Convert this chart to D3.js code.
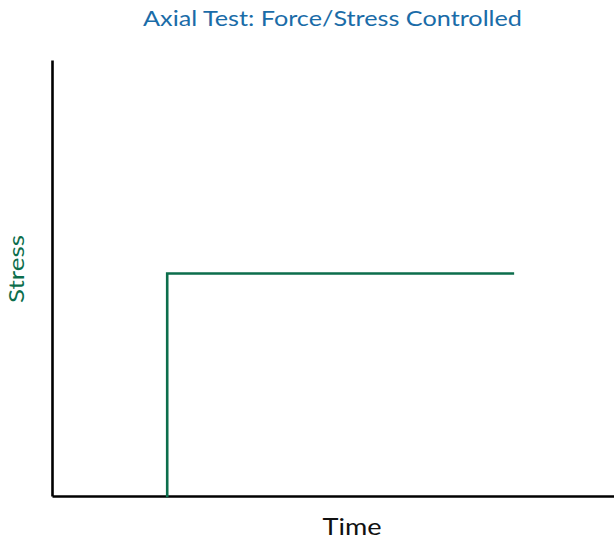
<!DOCTYPE html>
<html>
<head>
<meta charset="utf-8">
<script src="https://cdn.jsdelivr.net/npm/d3@7"></script>
<style>
  html, body { margin: 0; padding: 0; background: #fff; }
  text { font-family: "Lato", "DejaVu Sans", sans-serif; font-weight: 400; }
</style>
</head>
<body>
<svg id="chart" width="614" height="540"></svg>
<script>
// Step loading history: stress applied at a given time and held constant
const time = [2.05, 2.05, 8.2];
const stress = [0, 1, 1];

const titleText = "Axial Test: Force/Stress Controlled";
const xLabel = "Time";
const yLabel = "Stress";

const W = 614, H = 540;
const svg = d3.select("#chart");

const x = d3.scaleLinear().domain([0, 10]).range([52, 614]);
const y = d3.scaleLinear().domain([0, 1.96]).range([496, 60]);

// Axes drawn as bare lines (no ticks)
const xAxis = svg.append("g")
  .attr("transform", `translate(0,${y(0)})`)
  .call(d3.axisBottom(x).tickValues([]).tickSizeOuter(0));
const yAxis = svg.append("g")
  .attr("transform", `translate(${x(0)},0)`)
  .call(d3.axisLeft(y).tickValues([]).tickSizeOuter(0));
[xAxis, yAxis].forEach(g => g.select(".domain")
  .attr("stroke", "#000").attr("stroke-width", 2.6));

// Stress vs time step line
const line = d3.line().x((d, i) => x(time[i])).y(d => y(d));
svg.append("path")
  .datum(stress)
  .attr("d", line)
  .attr("fill", "none")
  .attr("stroke", "#0c6e4c")
  .attr("stroke-width", 2.6)
  .attr("stroke-linecap", "square")
  .attr("stroke-linejoin", "miter");

// Title
svg.append("text")
  .attr("x", 332.5).attr("y", 26)
  .attr("text-anchor", "middle")
  .attr("fill", "#1a6ca8")
  .attr("font-size", 22)
  .attr("textLength", 379)
  .attr("lengthAdjust", "spacingAndGlyphs")
  .text(titleText);

// Axis labels
svg.append("text")
  .attr("x", 352).attr("y", 535)
  .attr("text-anchor", "middle")
  .attr("fill", "#111")
  .attr("font-size", 23)
  .attr("textLength", 59)
  .attr("lengthAdjust", "spacingAndGlyphs")
  .text(xLabel);

svg.append("text")
  .attr("transform", "translate(24,269) rotate(-90)")
  .attr("text-anchor", "middle")
  .attr("fill", "#0c6e4c")
  .attr("font-size", 22)
  .attr("textLength", 68)
  .attr("lengthAdjust", "spacingAndGlyphs")
  .text(yLabel);
</script>
</body>
</html>
